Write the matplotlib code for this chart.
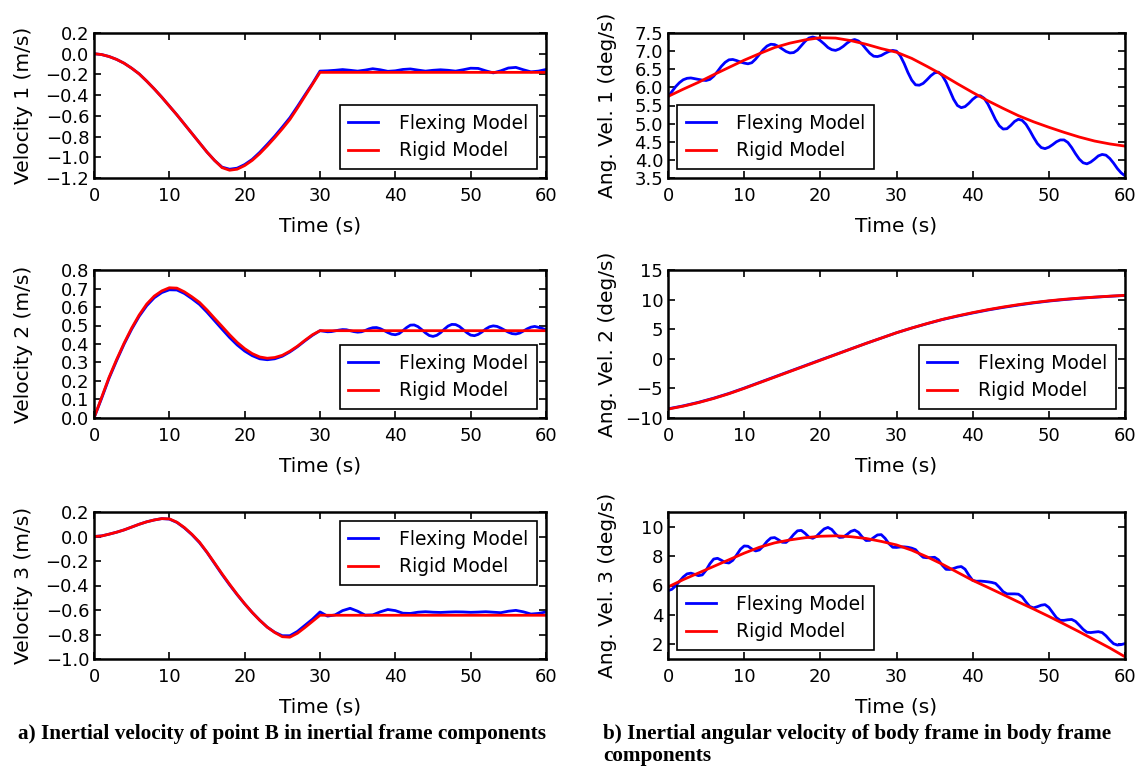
import numpy as np
import matplotlib
matplotlib.use('Agg')
import matplotlib.pyplot as plt

# time grids
t1 = np.arange(0, 61, 1.0)
t2 = np.arange(0, 61, 2.0)
th = np.arange(0, 60.5, 0.5)
t_mix = np.concatenate([np.arange(0, 30, 1.0), np.arange(30, 60.5, 0.5)])

# a) velocity 1 (m/s)
v1_rigid = [0.0, -0.008, -0.027, -0.055, -0.092, -0.14, -0.195, -0.265, -0.34, -0.42,
            -0.505, -0.59, -0.68, -0.77, -0.86, -0.95, -1.03, -1.1, -1.125, -1.115,
            -1.08, -1.03, -0.965, -0.89, -0.81, -0.725, -0.635, -0.525, -0.41, -0.295,
            -0.18, -0.18, -0.18, -0.18, -0.18, -0.18, -0.18, -0.18, -0.18, -0.18,
            -0.18, -0.18, -0.18, -0.18, -0.18, -0.18, -0.18, -0.18, -0.18, -0.18,
            -0.18, -0.18, -0.18, -0.18, -0.18, -0.18, -0.18, -0.18, -0.18, -0.18, -0.18]
v1_flex = [0.0, -0.008, -0.027, -0.055, -0.092, -0.14, -0.195, -0.265, -0.34, -0.42,
           -0.505, -0.59, -0.68, -0.77, -0.86, -0.95, -1.03, -1.095, -1.115, -1.105,
           -1.07, -1.02, -0.952, -0.875, -0.795, -0.708, -0.618, -0.51, -0.398, -0.288,
           -0.168, -0.165, -0.16, -0.153, -0.16, -0.168, -0.158, -0.145, -0.155, -0.17,
           -0.165, -0.152, -0.147, -0.158, -0.168, -0.16, -0.155, -0.16, -0.168, -0.155,
           -0.14, -0.142, -0.165, -0.185, -0.165, -0.138, -0.132, -0.155, -0.175, -0.168, -0.152]

# a) velocity 2 (m/s)
v2_rigid = [0.0, 0.11, 0.22, 0.316, 0.405, 0.486, 0.557, 0.616, 0.659, 0.687,
            0.704, 0.702, 0.682, 0.655, 0.625, 0.584, 0.539, 0.495, 0.45, 0.409,
            0.375, 0.348, 0.33, 0.323, 0.327, 0.339, 0.361, 0.388, 0.42, 0.45,
            0.472, 0.472, 0.472, 0.472, 0.472, 0.472, 0.472, 0.472, 0.472, 0.472,
            0.472, 0.472, 0.472, 0.472, 0.472, 0.472, 0.472, 0.472, 0.472, 0.472,
            0.472, 0.472, 0.472, 0.472, 0.472, 0.472, 0.472, 0.472, 0.472, 0.472, 0.472]
v2_flex = [0.0, 0.105, 0.215, 0.31, 0.4, 0.48, 0.55, 0.607, 0.65, 0.678,
           0.693, 0.692, 0.673, 0.645, 0.614, 0.572, 0.526, 0.48, 0.435, 0.395,
           0.362, 0.337, 0.32, 0.315, 0.32, 0.334, 0.357, 0.385, 0.417, 0.447,
           0.472, 0.469, 0.466, 0.467, 0.471, 0.475, 0.478, 0.477, 0.472, 0.467,
           0.464, 0.466, 0.473, 0.482, 0.488, 0.489, 0.483, 0.473, 0.462, 0.453,
           0.45, 0.456, 0.472, 0.489, 0.502, 0.503, 0.494, 0.478, 0.46, 0.446,
           0.441, 0.447, 0.461, 0.48, 0.497, 0.506, 0.505, 0.495, 0.478, 0.461,
           0.448, 0.445, 0.452, 0.465, 0.481, 0.493, 0.498, 0.495, 0.486, 0.475,
           0.464, 0.456, 0.454, 0.459, 0.47, 0.482, 0.491, 0.495, 0.49, 0.484, 0.477]

# a) velocity 3 (m/s)
v3_rigid = [0.0, 0.004, 0.019, 0.035, 0.054, 0.077, 0.1, 0.12, 0.135, 0.146,
            0.144, 0.117, 0.073, 0.018, -0.046, -0.128, -0.216, -0.305, -0.39, -0.472,
            -0.549, -0.62, -0.684, -0.74, -0.784, -0.818, -0.822, -0.79, -0.743, -0.693,
            -0.643, -0.643, -0.643, -0.643, -0.643, -0.643, -0.643, -0.643, -0.643, -0.643,
            -0.643, -0.643, -0.643, -0.643, -0.643, -0.643, -0.643, -0.643, -0.643, -0.643,
            -0.643, -0.643, -0.643, -0.643, -0.643, -0.643, -0.643, -0.643, -0.643, -0.643, -0.643]
v3_flex = [0.0, 0.005, 0.019, 0.035, 0.054, 0.077, 0.1, 0.12, 0.135, 0.146,
           0.142, 0.115, 0.07, 0.015, -0.05, -0.13, -0.22, -0.31, -0.395, -0.475,
           -0.55, -0.62, -0.683, -0.74, -0.782, -0.81, -0.81, -0.775, -0.725, -0.675,
           -0.616, -0.65, -0.64, -0.605, -0.586, -0.61, -0.642, -0.64, -0.615, -0.596,
           -0.605, -0.626, -0.628, -0.618, -0.614, -0.618, -0.62, -0.617, -0.615, -0.616,
           -0.619, -0.617, -0.614, -0.618, -0.622, -0.61, -0.603, -0.615, -0.633, -0.628, -0.616]

# b) angular velocity 1 (deg/s)
w1_rigid = [5.75, 5.95, 6.14, 6.35, 6.55, 6.75, 6.93, 7.1, 7.22, 7.31, 7.37,
            7.36, 7.29, 7.19, 7.07, 6.97, 6.8, 6.58, 6.35, 6.1, 5.86,
            5.63, 5.42, 5.22, 5.05, 4.9, 4.76, 4.63, 4.52, 4.44, 4.38]
w1_flex = [5.74, 5.88, 6.02, 6.13, 6.21, 6.25, 6.26, 6.24, 6.22, 6.20,
           6.19, 6.22, 6.31, 6.44, 6.58, 6.69, 6.76, 6.77, 6.74, 6.70,
           6.67, 6.65, 6.68, 6.78, 6.91, 7.04, 7.14, 7.19, 7.18, 7.13,
           7.06, 6.99, 6.95, 6.96, 7.03, 7.15, 7.27, 7.36, 7.39, 7.36,
           7.29, 7.20, 7.10, 7.04, 7.02, 7.06, 7.13, 7.22, 7.29, 7.32,
           7.28, 7.19, 7.06, 6.94, 6.86, 6.85, 6.88, 6.94, 6.99, 7.02,
           7.00, 6.87, 6.66, 6.41, 6.20, 6.07, 6.06, 6.11, 6.21, 6.32,
           6.40, 6.42, 6.33, 6.15, 5.91, 5.67, 5.50, 5.44, 5.47, 5.56,
           5.67, 5.75, 5.77, 5.70, 5.54, 5.33, 5.11, 4.94, 4.85, 4.86,
           4.95, 5.06, 5.12, 5.09, 4.98, 4.81, 4.62, 4.45, 4.34, 4.31,
           4.35, 4.42, 4.50, 4.55, 4.55, 4.48, 4.34, 4.17, 4.02, 3.92,
           3.89, 3.94, 4.02, 4.11, 4.15, 4.13, 4.04, 3.91, 3.76, 3.64, 3.56]

# b) angular velocity 2 (deg/s)
w2_rigid = [-8.5, -8.0, -7.4, -6.7, -5.9, -5.0, -4.05, -3.1, -2.15, -1.2, -0.25,
            0.7, 1.65, 2.6, 3.5, 4.4, 5.2, 5.95, 6.65, 7.25, 7.8,
            8.3, 8.75, 9.15, 9.5, 9.8, 10.05, 10.25, 10.42, 10.58, 10.72]
w2_flex = [-8.45, -7.95, -7.35, -6.65, -5.85, -4.95, -4.0, -3.05, -2.1, -1.15, -0.2,
           0.73, 1.67, 2.6, 3.5, 4.4, 5.2, 5.93, 6.62, 7.2, 7.74,
           8.24, 8.68, 9.08, 9.44, 9.75, 10.0, 10.22, 10.4, 10.56, 10.7]

# b) angular velocity 3 (deg/s)
w3_rigid = [5.9, 6.4, 6.85, 7.3, 7.75, 8.2, 8.6, 8.9, 9.1, 9.25, 9.35,
            9.38, 9.32, 9.2, 9.0, 8.76, 8.4, 7.95, 7.45, 6.9, 6.35,
            5.87, 5.38, 4.88, 4.4, 3.9, 3.38, 2.85, 2.3, 1.75, 1.15]
w3_flex = [5.65, 5.74, 5.97, 6.28, 6.58, 6.79, 6.84, 6.76, 6.67, 6.72,
           7.04, 7.48, 7.80, 7.85, 7.72, 7.57, 7.53, 7.71, 8.07, 8.46,
           8.69, 8.67, 8.49, 8.35, 8.42, 8.68, 9.00, 9.23, 9.26, 9.11,
           8.94, 8.93, 9.15, 9.47, 9.72, 9.75, 9.55, 9.29, 9.21, 9.35,
           9.61, 9.85, 9.95, 9.81, 9.50, 9.27, 9.29, 9.47, 9.68, 9.77,
           9.62, 9.30, 9.06, 9.07, 9.26, 9.44, 9.46, 9.21, 8.85, 8.60,
           8.59, 8.62, 8.63, 8.60, 8.54, 8.44, 8.15, 7.92, 7.89, 7.90,
           7.92, 7.75, 7.38, 7.10, 7.09, 7.16, 7.25, 7.29, 7.11, 6.70,
           6.35, 6.29, 6.30, 6.28, 6.25, 6.21, 6.14, 5.88, 5.58, 5.43,
           5.43, 5.43, 5.41, 5.23, 4.88, 4.57, 4.48, 4.56, 4.66, 4.70,
           4.51, 4.16, 3.81, 3.63, 3.63, 3.67, 3.69, 3.56, 3.30, 3.02,
           2.82, 2.80, 2.83, 2.86, 2.80, 2.58, 2.29, 2.04, 1.95, 1.98, 2.05]

plt.rcParams['font.family'] = 'DejaVu Sans'
plt.rcParams['xtick.direction'] = 'in'
plt.rcParams['ytick.direction'] = 'in'
plt.rcParams['xtick.top'] = True
plt.rcParams['ytick.right'] = True
plt.rcParams['xtick.major.size'] = 5
plt.rcParams['ytick.major.size'] = 5
plt.rcParams['xtick.major.width'] = 1.2
plt.rcParams['ytick.major.width'] = 1.2
plt.rcParams['xtick.major.pad'] = 6.5
plt.rcParams['axes.linewidth'] = 1.8
plt.rcParams['xtick.labelsize'] = 13
plt.rcParams['ytick.labelsize'] = 13

fig = plt.figure(figsize=(11.43, 7.66), dpi=100)

W, H = 1143.0, 766.0
cols = [(94, 546), (668, 1125)]
rows = [(33, 178), (270, 418), (512, 659)]


def make_ax(col, row):
    x0, x1 = cols[col]
    y0, y1 = rows[row]
    return fig.add_axes([x0 / W, 1 - y1 / H, (x1 - x0) / W, (y1 - y0) / H])


panels = [
    (0, 0, t1, v1_flex, t1, v1_rigid, 'Velocity 1 (m/s)', (-1.2, 0.2), np.arange(-1.2, 0.21, 0.2), 'lower right'),
    (0, 1, t_mix, v2_flex, t1, v2_rigid, 'Velocity 2 (m/s)', (0.0, 0.8), np.arange(0, 0.81, 0.1), 'lower right'),
    (0, 2, t1, v3_flex, t1, v3_rigid, 'Velocity 3 (m/s)', (-1.0, 0.2), np.arange(-1.0, 0.21, 0.2), 'upper right'),
    (1, 0, th, w1_flex, t2, w1_rigid, 'Ang. Vel. 1 (deg/s)', (3.5, 7.5), np.arange(3.5, 7.51, 0.5), 'lower left'),
    (1, 1, t2, w2_flex, t2, w2_rigid, 'Ang. Vel. 2 (deg/s)', (-10, 15), np.arange(-10, 16, 5), 'lower right'),
    (1, 2, th, w3_flex, t2, w3_rigid, 'Ang. Vel. 3 (deg/s)', (1, 11), np.arange(2, 11, 2), 'lower left'),
]

for col, row, tf, yf, tr, yr, ylab, ylim, yticks, loc in panels:
    ax = make_ax(col, row)
    ax.plot(tf, yf, color='blue', lw=2, label='Flexing Model')
    ax.plot(tr, yr, color='red', lw=2, label='Rigid Model')
    ax.set_xlim(0, 60)
    ax.set_ylim(*ylim)
    ax.set_xticks(np.arange(0, 61, 10))
    ax.set_yticks(yticks)
    if ylim[1] < 1:
        ax.set_yticklabels([('%.1f' % (round(v, 1) + 0.0)).replace('-', '\u2212') for v in yticks])
    ax.set_xlabel('Time (s)', fontsize=14.5, labelpad=8)
    ax.set_ylabel(ylab, fontsize=14.5)
    ax.yaxis.set_label_coords(-0.135 if col == 0 else -0.112, 0.5)
    leg = ax.legend(loc=loc, fontsize=13.5, fancybox=False, framealpha=1,
                    edgecolor='black', handlelength=1.6, handletextpad=1.1,
                    borderpad=0.45, labelspacing=0.45, borderaxespad=0.5)
    leg.get_frame().set_linewidth(1.2)

cap = dict(family='Liberation Serif', weight='bold', fontsize=15.3, va='baseline')
fig.text(18 / W, 1 - 739 / H, 'a) Inertial velocity of point B in inertial frame components', **cap)
fig.text(603 / W, 1 - 739 / H, 'b) Inertial angular velocity of body frame in body frame', **cap)
fig.text(603 / W, 1 - 761 / H, 'components', **cap)

fig.savefig('out.png', dpi=100)
